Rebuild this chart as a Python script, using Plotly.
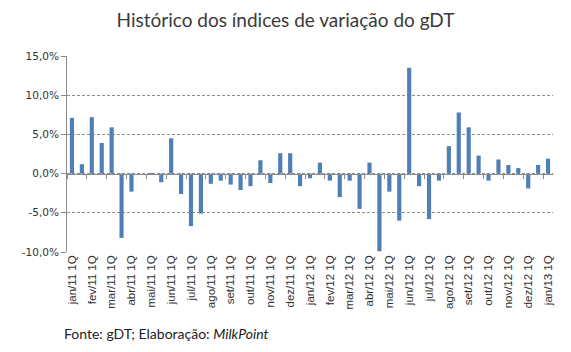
import plotly.graph_objects as go

months = ["jan/11", "fev/11", "mar/11", "abr/11", "mai/11", "jun/11", "jul/11", "ago/11",
          "set/11", "out/11", "nov/11", "dez/11", "jan/12", "fev/12", "mar/12", "abr/12",
          "mai/12", "jun/12", "jul/12", "ago/12", "set/12", "out/12", "nov/12", "dez/12", "jan/13"]

categories = []
for m in months:
    categories.append(m + " 1Q")
    if m != "jan/13":
        categories.append(m + " 2Q")

values = [7.1, 1.2, 7.2, 3.9, 5.9, -8.2, -2.3, 0.0, -0.1, -1.1,
          4.5, -2.6, -6.7, -5.1, -1.3, -0.9, -1.4, -2.1, -1.6, 1.7,
          -1.2, 2.6, 2.6, -1.6, -0.6, 1.4, -0.9, -3.0, -0.9, -4.5,
          1.4, -9.9, -2.3, -6.0, 13.5, -1.6, -5.8, -0.9, 3.5, 7.8,
          5.9, 2.3, -0.9, 1.8, 1.1, 0.7, -1.9, 1.1, 1.9]

tick_labels = [m + " 1Q" for m in months]
y_ticks = [-10, -5, 0, 5, 10, 15]
y_labels = ["-10,0%", "-5,0%", "0,0%", "5,0%", "10,0%", "15,0%"]

fig = go.Figure()
fig.add_trace(go.Bar(x=categories, y=values, marker_color="#4F7FB6",
                     marker_line_width=0, xaxis="x", yaxis="y"))
# invisible trace for zero-line axis with ticks
fig.add_trace(go.Bar(x=categories, y=[None] * len(categories), xaxis="x2", yaxis="y",
                     showlegend=False, hoverinfo="skip"))

fig.update_layout(
    width=571, height=352,
    margin=dict(l=67, r=18, t=56, b=100),
    paper_bgcolor="white", plot_bgcolor="white",
    showlegend=False,
    bargap=0.58,
    title=dict(text="Histórico dos índices de variação do gDT", x=0.5, xanchor="center",
               y=0.943, yanchor="middle",
               font=dict(family="Lato", size=19, color="#3a3a3a")),
    xaxis=dict(type="category", categoryorder="array", categoryarray=categories,
               tickmode="array", tickvals=tick_labels, ticktext=tick_labels,
               tickangle=-90, showgrid=False, showline=False, ticks="", zeroline=False,
               tickfont=dict(family="Liberation Sans", size=11.5, color="#333333"),
               range=[-0.5, len(categories) - 0.5]),
    xaxis2=dict(type="category", categoryorder="array", categoryarray=categories,
                overlaying="x", anchor="free", position=0.4, side="bottom",
                showline=True, linecolor="#8a8a8a", linewidth=1,
                ticks="outside", ticklen=4, tickcolor="#8a8a8a", tickson="boundaries",
                showticklabels=False, showgrid=False, zeroline=False,
                range=[-0.5, len(categories) - 0.5]),
    yaxis=dict(range=[-10, 15], tickmode="array", tickvals=y_ticks, ticktext=y_labels,
               showline=True, linecolor="#8a8a8a", linewidth=1,
               ticks="outside", ticklen=5, tickcolor="#8a8a8a",
               showgrid=True, gridcolor="#8f8f8f", griddash="3px,2px", gridwidth=1,
               zeroline=False,
               tickfont=dict(family="DejaVu Sans", size=10.5, color="#333333")),
    annotations=[dict(text="Fonte: gDT; Elaboração: <i>MilkPoint</i>", xref="paper", yref="paper",
                      x=-0.01, y=-0.415, xanchor="left", yanchor="middle", showarrow=False,
                      font=dict(family="Lato", size=14, color="#222222"))],
)

fig.write_html("out.html")
